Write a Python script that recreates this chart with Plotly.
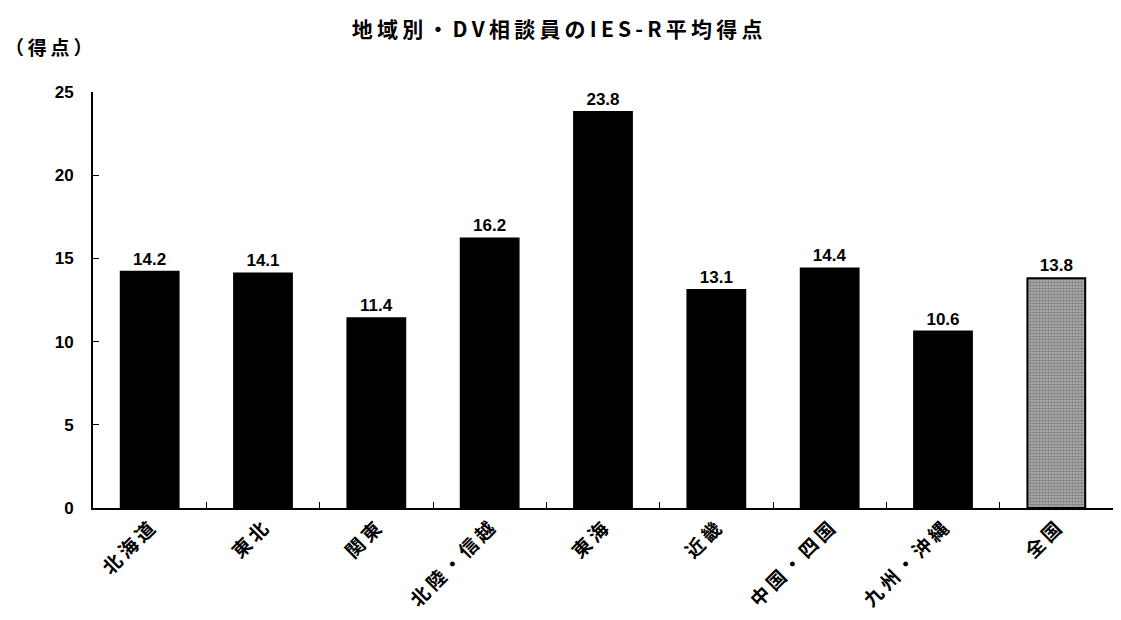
import plotly.graph_objects as go

regions = ["北海道", "東北", "関東", "北陸・信越", "東海", "近畿", "中国・四国", "九州・沖縄", "全国"]
scores = [14.2, 14.1, 11.4, 16.2, 23.8, 13.1, 14.4, 10.6, 13.8]
y_ticks = [0, 5, 10, 15, 20, 25]
title_text = "地域別・DV相談員のIES-R平均得点"
unit_text = "（得点）"

jp_font = "Noto Sans CJK JP"
num_font = "Liberation Sans"


def spaced(s, gap="\u2009"):
    # widen the glyph spacing of Japanese labels
    return gap.join(s)


n = len(regions)
fill_colors = ["black"] * (n - 1) + ["#b8b8b8"]
pattern_shapes = [""] * (n - 1) + ["."]

fig = go.Figure()
fig.add_trace(go.Bar(
    x=regions,
    y=scores,
    width=0.51,
    marker=dict(
        color=fill_colors,
        line=dict(color="black", width=2),
        pattern=dict(shape=pattern_shapes, fgcolor="#2a2a2a", bgcolor="#c8c8c8",
                     size=3, solidity=0.55, fillmode="overlay"),
    ),
    text=[f"{v:.1f}" for v in scores],
    textposition="outside",
    cliponaxis=False,
    textfont=dict(family=num_font, size=17, color="black", weight="bold"),
    hoverinfo="skip",
))

fig.update_layout(
    width=1121,
    height=620,
    margin=dict(l=93, r=8, t=92, b=112),
    paper_bgcolor="white",
    plot_bgcolor="white",
    showlegend=False,
    bargap=0.49,
    title=dict(
        text=spaced(title_text),
        x=0.497, xanchor="center", xref="container",
        y=0.952, yanchor="middle",
        font=dict(family=jp_font, size=21, color="black", weight="bold"),
    ),
    annotations=[dict(
        text=spaced(unit_text), xref="paper", yref="paper",
        x=-0.088, y=1.11, xanchor="left", yanchor="middle",
        showarrow=False,
        font=dict(family=jp_font, size=19, color="black", weight="bold"),
    )],
    xaxis=dict(
        type="category",
        tickmode="array",
        tickvals=regions,
        ticktext=[spaced(r) for r in regions],
        showline=True, linecolor="black", linewidth=2,
        ticks="inside", tickson="boundaries", ticklen=6, tickcolor="black",
        tickangle=-45,
        tickfont=dict(family=jp_font, size=19, color="black", weight="bold"),
        showgrid=False,
        automargin=False,
    ),
    yaxis=dict(
        range=[0, 25],
        tickvals=y_ticks,
        showline=True, linecolor="black", linewidth=2,
        ticks="inside", ticklen=6, tickcolor="black",
        tickfont=dict(family=num_font, size=17, color="black", weight="bold"),
        showgrid=False, zeroline=False,
        ticklabelstandoff=14,
        automargin=False,
    ),
)

fig.write_html("out.html")
